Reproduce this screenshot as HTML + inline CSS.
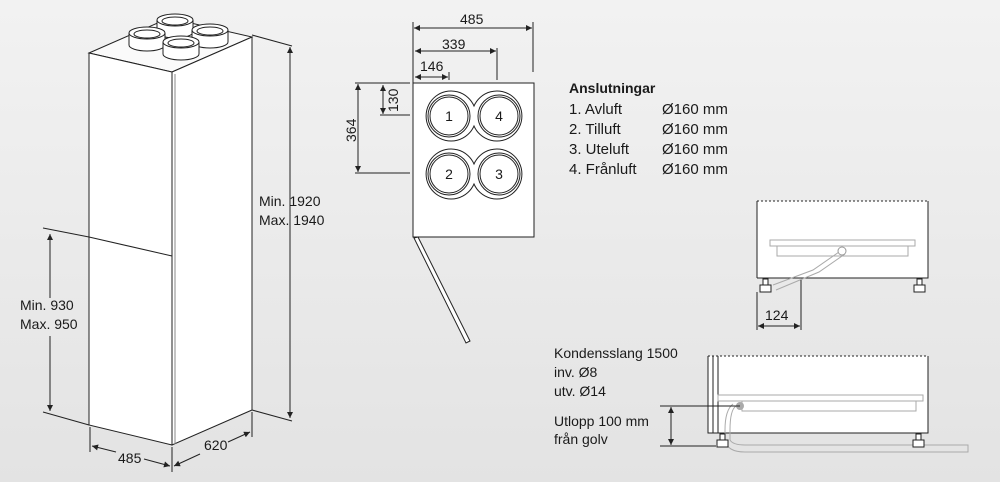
<!DOCTYPE html>
<html><head><meta charset="utf-8"><style>
html,body{margin:0;padding:0;width:1000px;height:482px;overflow:hidden}
body{background:linear-gradient(#f2f2f2,#e3e3e3)}
text{font-family:"Liberation Sans",sans-serif;fill:#1a1a1a}
</style></head><body>
<svg width="1000" height="482" viewBox="0 0 1000 482" xmlns="http://www.w3.org/2000/svg">
<defs>
<marker id="a" viewBox="0 0 10 10" refX="10" refY="5" markerWidth="8" markerHeight="6" orient="auto-start-reverse" markerUnits="userSpaceOnUse"><path d="M0,0L10,5L0,10z" fill="#222"/></marker>
</defs>
<g stroke="#222" fill="none" stroke-width="1">
<!-- cabinet -->
<polygon points="89,53 169,18 252,37 172,72" fill="#fafafa"/>
<polygon points="89,53 172,72 172,445 89,425" fill="#fff"/>
<polygon points="172,72 252,37 252,410 172,445" fill="#fff"/>
<line x1="175" y1="74" x2="175" y2="444" stroke="#888"/>
<line x1="89" y1="237" x2="172" y2="256"/>
<!-- pipes -->
<g fill="#fff">
<path d="M157,20 v12 a18,6 0 0 0 36,0 v-12"/><ellipse cx="175" cy="20" rx="18" ry="6"/><ellipse cx="175" cy="21" rx="13" ry="4"/>
<path d="M192,30 v12 a18,6 0 0 0 36,0 v-12"/><ellipse cx="210" cy="30" rx="18" ry="6"/><ellipse cx="210" cy="31" rx="13" ry="4"/>
<path d="M129,33 v12 a18,6 0 0 0 36,0 v-12"/><ellipse cx="147" cy="33" rx="18" ry="6"/><ellipse cx="147" cy="34" rx="13" ry="4"/>
<path d="M163,42 v12 a18,6 0 0 0 36,0 v-12"/><ellipse cx="181" cy="42" rx="18" ry="6"/><ellipse cx="181" cy="43" rx="13" ry="4"/>
</g>
<!-- dims cabinet -->
<line x1="252" y1="35" x2="292" y2="46"/><line x1="252" y1="410" x2="292" y2="421"/>
<line x1="290" y1="47" x2="290" y2="418" marker-start="url(#a)" marker-end="url(#a)"/>
<line x1="43" y1="228" x2="89" y2="237"/><line x1="43" y1="412" x2="89" y2="425"/>
<line x1="50" y1="234" x2="50" y2="298" marker-start="url(#a)"/><line x1="50" y1="336" x2="50" y2="411" marker-end="url(#a)"/>
<line x1="90" y1="427" x2="90" y2="452"/><line x1="172" y1="447" x2="172" y2="472"/><line x1="252" y1="412" x2="252" y2="437"/>
<line x1="92" y1="446" x2="116" y2="452" marker-start="url(#a)"/><line x1="144" y1="459" x2="170" y2="466" marker-end="url(#a)"/>
<line x1="174" y1="466" x2="200" y2="454" marker-start="url(#a)"/><line x1="228" y1="442" x2="250" y2="432" marker-end="url(#a)"/>
<!-- top view -->
<rect x="413" y="83" width="121" height="154" fill="#fff"/>
<g fill="#fff">
<path d="M474,106 A25,25 0 1 0 474,126 A25,25 0 1 0 474,106Z"/>
<path d="M474,164 A25,25 0 1 0 474,184 A25,25 0 1 0 474,164Z"/>
<circle cx="449" cy="116" r="21"/><circle cx="449" cy="116" r="19"/>
<circle cx="499" cy="116" r="21"/><circle cx="499" cy="116" r="19"/>
<circle cx="449" cy="174" r="21"/><circle cx="449" cy="174" r="19"/>
<circle cx="499" cy="174" r="21"/><circle cx="499" cy="174" r="19"/>
</g>
<polygon points="414,238 418,237 470,341 466,343" fill="#fff"/>
<line x1="413" y1="22" x2="413" y2="83"/><line x1="533" y1="22" x2="533" y2="72"/><line x1="497" y1="48" x2="497" y2="80"/><line x1="449" y1="72" x2="449" y2="80"/>
<line x1="414" y1="28" x2="532" y2="28" marker-start="url(#a)" marker-end="url(#a)"/>
<line x1="415" y1="51" x2="496" y2="51" marker-start="url(#a)" marker-end="url(#a)"/>
<line x1="415" y1="77" x2="448" y2="77" marker-start="url(#a)" marker-end="url(#a)"/>
<line x1="355" y1="83" x2="410" y2="83"/><line x1="355" y1="173" x2="410" y2="173"/><line x1="380" y1="115" x2="410" y2="115"/>
<line x1="358" y1="84" x2="358" y2="172" marker-start="url(#a)" marker-end="url(#a)"/>
<line x1="383" y1="85" x2="383" y2="114" marker-start="url(#a)" marker-end="url(#a)"/>
<!-- side view 1 -->
<path d="M757,278 V201 M928,201 V278 H757" fill="#fff"/>
<rect x="757" y="201" width="171" height="77" fill="#fff" stroke="none"/>
<path d="M757,278 V201 M928,201 V278 H757"/>
<line x1="757" y1="201" x2="928" y2="201" stroke-dasharray="2,2"/>
<g stroke="#aaa"><rect x="770" y="240" width="145" height="6" fill="#fff"/><rect x="777" y="246" width="131" height="10" fill="#fff"/>
<path d="M839,252 L813,270 L773,285 M845,254 L819,272 L776,290"/><circle cx="842" cy="251" r="4" fill="#fff" stroke="#999"/></g>
<g fill="#fff"><rect x="763" y="279" width="5" height="6"/><rect x="760" y="285" width="11" height="7"/><rect x="917" y="279" width="5" height="6"/><rect x="914" y="285" width="11" height="7"/></g>
<line x1="757" y1="292" x2="757" y2="330"/><line x1="801" y1="280" x2="801" y2="330"/>
<line x1="758" y1="326" x2="800" y2="326" marker-start="url(#a)" marker-end="url(#a)"/>
<!-- side view 2 -->
<rect x="708" y="356" width="220" height="77" fill="#fff" stroke="none"/>
<path d="M708,356 V433 H928 V356 M713,356 V433 M718,356 V433"/>
<line x1="708" y1="356" x2="928" y2="356" stroke-dasharray="2,2"/>
<g stroke="#aaa"><rect x="718" y="395" width="205" height="6" fill="#fff"/><rect x="742" y="401" width="174" height="10" fill="#fff"/>
<path d="M736,406 Q730,410 730,430 V440 Q733,445 745,445 H968 V452 H745 Q727,452 725,440 V430 Q725,410 733,404" fill="none"/></g>
<circle cx="740" cy="406" r="4" fill="#aaa" stroke="none"/>
<g fill="#fff"><rect x="720" y="434" width="5" height="6"/><rect x="717" y="440" width="11" height="7"/><rect x="916" y="434" width="5" height="6"/><rect x="913" y="440" width="11" height="7"/></g>
<line x1="660" y1="406" x2="740" y2="406"/><line x1="660" y1="446" x2="716" y2="446"/>
<line x1="671" y1="407" x2="671" y2="445" marker-start="url(#a)" marker-end="url(#a)"/>
</g>
<g font-size="14">
<text x="259" y="206">Min. 1920</text><text x="259" y="225">Max. 1940</text>
<text x="20" y="310">Min. 930</text><text x="20" y="329">Max. 950</text>
<text x="118" y="463">485</text><text x="204" y="450">620</text>
<text x="460" y="24">485</text><text x="442" y="49">339</text><text x="420" y="71">146</text>
<text transform="translate(356,142) rotate(-90)">364</text>
<text transform="translate(398,112) rotate(-90)">130</text>
<text x="449" y="121" text-anchor="middle">1</text><text x="499" y="121" text-anchor="middle">4</text>
<text x="449" y="179" text-anchor="middle">2</text><text x="499" y="179" text-anchor="middle">3</text>
<text x="765" y="320">124</text>
<text x="554" y="358">Kondensslang 1500</text><text x="554" y="377">inv. Ø8</text><text x="554" y="396">utv. Ø14</text>
<text x="554" y="426">Utlopp 100 mm</text><text x="554" y="444">från golv</text>
</g>
<g font-size="15">
<text x="569" y="93" font-weight="bold" font-size="14">Anslutningar</text>
<text x="569" y="114">1. Avluft</text><text x="662" y="114">Ø160 mm</text>
<text x="569" y="134">2. Tilluft</text><text x="662" y="134">Ø160 mm</text>
<text x="569" y="154">3. Uteluft</text><text x="662" y="154">Ø160 mm</text>
<text x="569" y="174">4. Frånluft</text><text x="662" y="174">Ø160 mm</text>
</g>
</svg>
</body></html>
